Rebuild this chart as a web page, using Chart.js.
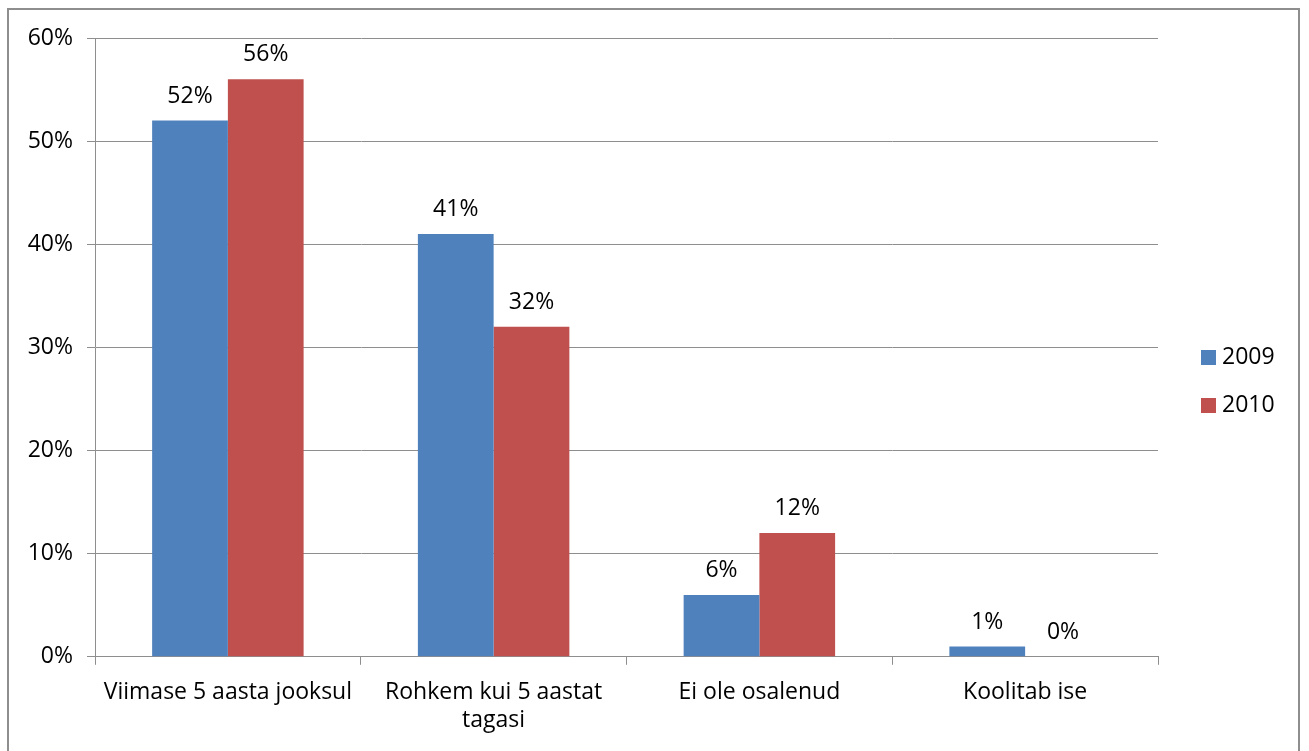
<html>

<head>
  <title>Koolitus</title>
  <script src="https://cdn.jsdelivr.net/npm/chart.js"></script>
  <style>
    body { margin: 0; background: #fff; }
    #frame {
      position: absolute; left: 7px; top: 8px; width: 1293px; height: 760px;
      border: 2px solid #8e8e8e; box-sizing: border-box;
    }
    #wrap { position: absolute; left: 0; top: 0; width: 1309px; height: 751px; }
  </style>
</head>

<body>
  <div id="frame"></div>
  <div id="wrap"><canvas id="barChart"></canvas></div>
  <script>
    // data
    const categories = ['Viimase 5 aasta jooksul', ['Rohkem kui 5 aastat', 'tagasi'], 'Ei ole osalenud', 'Koolitab ise'];
    const values2009 = [52, 41, 6, 1];
    const values2010 = [56, 32, 12, 0];
    const seriesNames = ['2009', '2010'];
    const yTicks = [0, 10, 20, 30, 40, 50, 60];

    const fontName = '"Open Sans", Lato, sans-serif';
    const fontSize = 23;

    // draws the "52%" style value above every bar
    const valueLabels = {
      id: 'valueLabels',
      afterDatasetsDraw(chart) {
        const ctx = chart.ctx;
        ctx.save();
        ctx.font = fontSize + 'px ' + fontName;
        ctx.fillStyle = '#000';
        ctx.textAlign = 'center';
        ctx.textBaseline = 'bottom';
        chart.data.datasets.forEach((ds, i) => {
          chart.getDatasetMeta(i).data.forEach((bar, j) => {
            ctx.fillText(ds.data[j] + '%', bar.x, bar.y - 13);
          });
        });
        ctx.restore();
      }
    };

    // legend on the right, drawn from the datasets (excel style: small square, text close to it)
    const sideLegend = {
      id: 'sideLegend',
      afterDraw(chart) {
        const ctx = chart.ctx;
        const x = chart.chartArea.right + 43;
        const mid = chart.height / 2 + 6;
        const step = 48;
        ctx.save();
        ctx.font = fontSize + 'px ' + fontName;
        ctx.textAlign = 'left';
        ctx.textBaseline = 'middle';
        chart.data.datasets.forEach((ds, i) => {
          const y = mid + (i - (chart.data.datasets.length - 1) / 2) * step;
          ctx.fillStyle = ds.backgroundColor;
          ctx.fillRect(x, y - 7.5, 15, 15);
          ctx.fillStyle = '#000';
          ctx.fillText(ds.label, x + 21, y);
        });
        ctx.restore();
      }
    };

    new Chart(document.getElementById('barChart'), {
      type: 'bar',
      data: {
        labels: categories,
        datasets: [{
          label: seriesNames[0],
          data: values2009,
          backgroundColor: '#4F81BD'
        }, {
          label: seriesNames[1],
          data: values2010,
          backgroundColor: '#C0504D'
        }]
      },
      options: {
        responsive: true,
        maintainAspectRatio: false,
        animation: false,
        layout: { padding: { top: 38, left: 20, right: 151, bottom: 3 } },
        datasets: { bar: { categoryPercentage: 0.57, barPercentage: 1 } },
        plugins: {
          tooltip: { enabled: false },
          legend: { display: false }
        },
        scales: {
          x: {
            grid: { offset: true, drawOnChartArea: false, drawTicks: true, tickLength: 8, color: '#8e8e8e' },
            border: { color: '#8e8e8e' },
            ticks: { color: '#000', font: { family: fontName, size: fontSize }, maxRotation: 0, padding: 14 }
          },
          y: {
            min: 0, max: 60,
            afterBuildTicks: (s) => { s.ticks = yTicks.map(v => ({ value: v })); },
            afterFit: (s) => { s.width = 75; },
            grid: { color: '#8e8e8e', tickLength: 8 },
            border: { color: '#8e8e8e' },
            ticks: { color: '#000', font: { family: fontName, size: fontSize }, padding: 14, callback: v => v + '%' }
          }
        }
      },
      plugins: [valueLabels, sideLegend]
    });
  </script>
</body>

</html>
